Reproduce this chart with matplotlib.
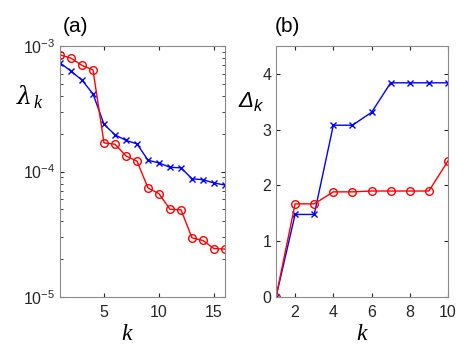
import matplotlib
matplotlib.use("Agg")
from matplotlib import pyplot as plt
from matplotlib.ticker import LogLocator, NullFormatter
import numpy as np

# panel (a) data
k_a = np.arange(1, 17)
lam_red = [8.5e-4, 8.0e-4, 7.0e-4, 6.45e-4, 1.69e-4, 1.65e-4, 1.33e-4, 1.21e-4,
           7.4e-5, 6.65e-5, 5.0e-5, 4.95e-5, 2.96e-5, 2.82e-5, 2.43e-5, 2.41e-5]
lam_blue = [7.35e-4, 6.3e-4, 5.35e-4, 4.15e-4, 2.38e-4, 1.96e-4, 1.77e-4, 1.66e-4,
            1.23e-4, 1.17e-4, 1.08e-4, 1.07e-4, 8.75e-5, 8.6e-5, 8.1e-5, 7.8e-5]

# panel (b) data
k_b = np.arange(1, 11)
delta_blue = [0, 1.48, 1.48, 3.08, 3.08, 3.31, 3.84, 3.84, 3.84, 3.84]
delta_red = [0, 1.67, 1.67, 1.885, 1.885, 1.9, 1.9, 1.9, 1.9, 2.44]

plt.rcParams['font.family'] = ['Liberation Sans', 'DejaVu Sans']
plt.rcParams['mathtext.fontset'] = 'custom'
plt.rcParams['mathtext.rm'] = 'Liberation Sans'

W, H = 469, 355
fig = plt.figure(figsize=(W / 100, H / 100), dpi=100)
ax1 = fig.add_axes([60 / W, 1 - 297 / H, 165 / W, 251 / H])
ax2 = fig.add_axes([276 / W, 1 - 297 / H, 172 / W, 251 / H])

def px(x, y):
    return x / W, 1 - y / H

gray = '#262626'
for ax in (ax1, ax2):
    ax.tick_params(direction='in', which='both', top=True, right=True,
                   labelsize=11.5, colors=gray, labelcolor=gray, length=3)
    ax.tick_params(which='minor', length=2)
    ax.tick_params(axis='x', pad=6)
    for s in ax.spines.values():
        s.set_color('#8a8a8a')
        s.set_linewidth(0.8)

serif_it = dict(family='Liberation Serif', style='italic', color='black')
sans_it = dict(family='Liberation Sans', style='italic', color='black')

# (a)
ax1.plot(k_a, lam_blue, '-x', color='#0000ff', lw=1, ms=4, mew=1)
ax1.plot(k_a, lam_red, '-o', color='#ff0000', lw=1, ms=5.5, mfc='none', mew=1)
ax1.set_yscale('log')
ax1.set_xlim(1, 16)
ax1.set_ylim(1e-5, 1e-3)
ax1.set_xticks([5, 10, 15])
ax1.yaxis.set_minor_locator(LogLocator(base=10, subs=np.arange(2, 10)))
ax1.yaxis.set_minor_formatter(NullFormatter())
fig.text(*px(127, 335), 'k', fontsize=17, ha='center', va='center', **serif_it)
fig.text(*px(24, 97), 'λ', fontsize=17, ha='center', va='center',
         family='DejaVu Serif', style='italic', color='black')
fig.text(*px(37, 103), 'k', fontsize=13, ha='center', va='center', **serif_it)
fig.text(*px(75, 27), '(a)', fontsize=15, ha='center', va='center')

# (b)
ax2.plot(k_b, delta_blue, '-x', color='#0000ff', lw=1, ms=4, mew=1)
ax2.plot(k_b, delta_red, '-o', color='#ff0000', lw=1, ms=5.5, mfc='none', mew=1)
ax2.set_xlim(1, 10)
ax2.set_ylim(0, 4.5)
ax2.set_xticks([2, 4, 6, 8, 10])
ax2.set_yticks([0, 1, 2, 3, 4])
fig.text(*px(362, 335), 'k', fontsize=17, ha='center', va='center', **serif_it)
fig.text(*px(246, 101), 'Δ', fontsize=16, ha='center', va='center', **sans_it)
fig.text(*px(258, 106), 'k', fontsize=12, ha='center', va='center', **sans_it)
fig.text(*px(287, 27), '(b)', fontsize=15, ha='center', va='center')

fig.savefig('out.png', dpi=100)
